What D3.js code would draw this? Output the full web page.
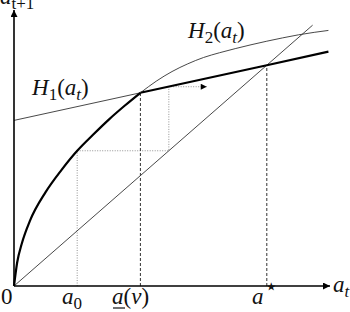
<!DOCTYPE html>
<html>
<head>
<meta charset="utf-8">
<script src="https://cdn.jsdelivr.net/npm/d3@7"></script>
<style>
  html, body { margin: 0; padding: 0; background: #fff; }
  svg { display: block; }
  text { font-family: "Liberation Serif", "Times New Roman", serif; fill: #111; }
</style>
</head>
<body>
<script>
// ---- data (abstract units) ----
const h2X = [0, 0.1, 0.25, 0.5, 1, 1.5, 2, 2.5, 3, 3.5, 4, 4.5, 5, 5.5, 6, 6.5, 7, 7.5, 8, 8.5, 9, 9.5, 9.95];
const h2Y = [0, 0.85, 1.55, 2.35, 3.4, 4.2, 4.9, 5.48, 6.03, 6.53, 7.0, 7.42, 7.77, 8.05, 8.28, 8.45, 8.6, 8.74, 8.87, 8.99, 9.1, 9.19, 9.26];
const h1X = [0, 4, 8, 9.95];
const h1Y = [6, 7, 8, 8.49];
const diagX = [0, 9.45];
const tickNames = ["a0", "aNu", "aStar"];
const tickValues = [2, 4, 8];
const stairX = [2, 4.9, 4.9, 6.1];
const stairY = [4.9, 4.9, 7.22, 7.22];

const W = 350, H = 312;
const x = d3.scaleLinear().domain([0, 10]).range([14, 330]);
const y = d3.scaleLinear().domain([0, 10]).range([286, 10]);

const svg = d3.select("body").append("svg").attr("width", W).attr("height", H);
const defs = svg.append("defs");
defs.append("marker").attr("id", "ah").attr("viewBox", "0 0 10 10")
  .attr("refX", 10).attr("refY", 5).attr("markerWidth", 10).attr("markerHeight", 7)
  .attr("markerUnits", "userSpaceOnUse").attr("orient", "auto")
  .append("path").attr("d", "M0,0 L10,5 L0,10 Z").attr("fill", "#000");
defs.append("marker").attr("id", "ahs").attr("viewBox", "0 0 10 10")
  .attr("refX", 10).attr("refY", 5).attr("markerWidth", 9).attr("markerHeight", 6)
  .attr("markerUnits", "userSpaceOnUse").attr("orient", "auto")
  .append("path").attr("d", "M0,0 L10,5 L0,10 Z").attr("fill", "#000");

const h2 = h2X.map((v, i) => [v, h2Y[i]]);
const h1 = h1X.map((v, i) => [v, h1Y[i]]);
const aNu = tickValues[1];
const line = d3.line().x(d => x(d[0])).y(d => y(d[1])).curve(d3.curveMonotoneX);
const lin = d3.line().x(d => x(d[0])).y(d => y(d[1]));

// guide lines
const tickH = [h2Y[h2X.indexOf(tickValues[0])], 7, 8];
// a0 dotted
svg.append("line").attr("x1", x(tickValues[0])).attr("x2", x(tickValues[0]))
  .attr("y1", y(0)).attr("y2", y(tickH[0]))
  .attr("stroke", "#777").attr("stroke-width", 0.8).attr("stroke-dasharray", "1,1.5");
// staircase dotted
svg.append("path").attr("d", lin(stairX.map((v, i) => [v, stairY[i]])))
  .attr("fill", "none").attr("stroke", "#777").attr("stroke-width", 0.8)
  .attr("stroke-dasharray", "1,1.5").attr("marker-end", "url(#ahs)");
// a(nu) and a* dashed
[1, 2].forEach(i => {
  svg.append("line").attr("x1", x(tickValues[i])).attr("x2", x(tickValues[i]))
    .attr("y1", y(0)).attr("y2", y(tickH[i]))
    .attr("stroke", "#333").attr("stroke-width", 1).attr("stroke-dasharray", "3,2");
});

// diagonal
svg.append("path").attr("d", lin(diagX.map(v => [v, v])))
  .attr("fill", "none").attr("stroke", "#333").attr("stroke-width", 0.9);
// thin parts
svg.append("path").attr("d", lin(h1.filter(d => d[0] <= aNu)))
  .attr("fill", "none").attr("stroke", "#333").attr("stroke-width", 0.9);
svg.append("path").attr("d", line(h2.filter(d => d[0] >= aNu)))
  .attr("fill", "none").attr("stroke", "#333").attr("stroke-width", 0.9);
// bold parts
svg.append("path").attr("d", line(h2.filter(d => d[0] <= aNu)))
  .attr("fill", "none").attr("stroke", "#000").attr("stroke-width", 2.2);
svg.append("path").attr("d", lin(h1.filter(d => d[0] >= aNu)))
  .attr("fill", "none").attr("stroke", "#000").attr("stroke-width", 2.2);

// axes
svg.append("line").attr("x1", x(0)).attr("y1", y(0)).attr("x2", x(0)).attr("y2", y(10))
  .attr("stroke", "#000").attr("stroke-width", 1.6).attr("marker-end", "url(#ah)");
svg.append("line").attr("x1", x(0)).attr("y1", y(0)).attr("x2", x(10)).attr("y2", y(0))
  .attr("stroke", "#000").attr("stroke-width", 1.6).attr("marker-end", "url(#ah)");

// text helper
function label(px, py, parts, anchor, fs) {
  fs = fs || 23;
  const t = svg.append("text").attr("x", px).attr("y", py).attr("font-size", fs)
    .attr("text-anchor", anchor || "start");
  let shift = 0;
  parts.forEach(p => {
    const ts = t.append("tspan").text(p.t);
    if (p.i) ts.attr("font-style", "italic");
    const target = p.sub ? 5 : (p.sup ? -10 : 0);
    if (target !== shift) { ts.attr("dy", target - shift); shift = target; }
    if (p.sub) ts.attr("font-size", Math.round(fs * 0.72));
    if (p.sup) ts.attr("font-size", Math.round(fs * 1.0));
  });
  return t;
}

label(32, 95, [{t: "H", i: 1}, {t: "1", sub: 1}, {t: "("}, {t: "a", i: 1}, {t: "t", i: 1, sub: 1}, {t: ")"}]);
label(188, 38, [{t: "H", i: 1}, {t: "2", sub: 1}, {t: "("}, {t: "a", i: 1}, {t: "t", i: 1, sub: 1}, {t: ")"}]);

// tick labels
label(1, 304, [{t: "0"}]);
label(62, 304, [{t: "a", i: 1}, {t: "0", sub: 1}]);
label(112, 304, [{t: "a", i: 1}, {t: "("}, {t: "ν", i: 1}, {t: ")"}]);
svg.append("line").attr("x1", 113).attr("x2", 125)
  .attr("y1", 308).attr("y2", 308).attr("stroke", "#111").attr("stroke-width", 1.2);
label(252, 304, [{t: "a", i: 1}, {t: "⋆", sup: 1}]);
label(333, 292, [{t: "a", i: 1}, {t: "t", i: 1, sub: 1}]);
label(0, 4, [{t: "a", i: 1}, {t: "t+1", i: 0, sub: 1}]);
</script>
</body>
</html>
